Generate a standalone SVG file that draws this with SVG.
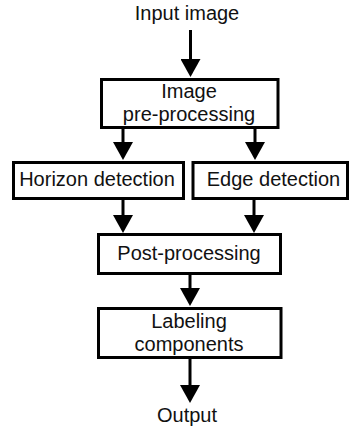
<svg xmlns="http://www.w3.org/2000/svg" width="349" height="428" viewBox="0 0 349 428">
<style>
.box{fill:#fff;stroke:#000;stroke-width:3}
.t{font-family:"Liberation Sans",Arial,sans-serif;font-size:20px;fill:#111;text-anchor:middle}
.c{stroke:#000;stroke-width:3;fill:none;marker-end:url(#ah)}
</style>
<defs>
<marker id="ah" viewBox="0 0 18 20" refX="8" refY="10" markerWidth="18" markerHeight="20" markerUnits="userSpaceOnUse" orient="auto">
<path d="M0,0 L18,10 L0,20 Z" fill="#000"/>
</marker>
</defs>
<rect width="349" height="428" fill="#fff"/>
<g id="connectors">
<line class="c" x1="190.5" y1="30" x2="190.5" y2="67"/>
<line class="c" x1="123" y1="129" x2="123" y2="150"/>
<line class="c" x1="255" y1="129" x2="255" y2="150"/>
<line class="c" x1="123" y1="199" x2="123" y2="223"/>
<line class="c" x1="254" y1="199" x2="254" y2="223"/>
<line class="c" x1="190" y1="275" x2="190" y2="296"/>
<line class="c" x1="190" y1="359" x2="190" y2="393"/>
</g>
<g id="input"><text class="t" x="187" y="20">Input image</text></g>
<g id="preprocessing">
<rect class="box" x="101.5" y="79.5" width="176.5" height="48"/>
<text class="t" x="189" y="98">Image</text>
<text class="t" x="189" y="121">pre-processing</text>
</g>
<g id="horizon">
<rect class="box" x="13.5" y="162.5" width="170" height="36"/>
<text class="t" x="97" y="186">Horizon detection</text>
</g>
<g id="edge">
<rect class="box" x="193" y="162.5" width="154.5" height="36"/>
<text class="t" x="273.5" y="186">Edge detection</text>
</g>
<g id="postprocessing">
<rect class="box" x="98.5" y="234.5" width="182" height="39"/>
<text class="t" x="189" y="260">Post-processing</text>
</g>
<g id="labeling">
<rect class="box" x="98.5" y="308.5" width="182.5" height="49"/>
<text class="t" x="189" y="328">Labeling</text>
<text class="t" x="189" y="351">components</text>
</g>
<g id="output"><text class="t" x="187" y="422">Output</text></g>
</svg>
